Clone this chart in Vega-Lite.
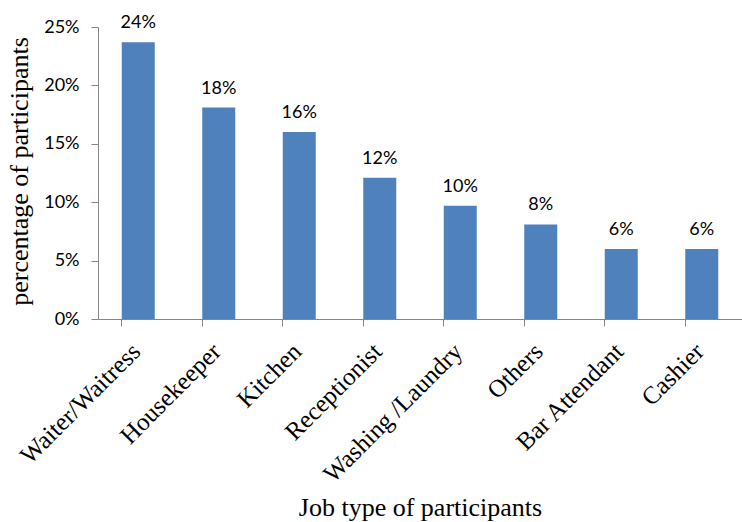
{
  "$schema": "https://vega.github.io/schema/vega-lite/v6.json",
  "autosize": {"type": "none"},
  "padding": {"left": 98, "top": 27, "right": 0, "bottom": 203},
  "width": 644,
  "height": 292,
  "background": "white",
  "config": {"view": {"stroke": null}},
  "data": {"values": [
    {"job": "Waiter/Waitress", "pct": 0.237},
    {"job": "Housekeeper", "pct": 0.181},
    {"job": "Kitchen", "pct": 0.160},
    {"job": "Receptionist", "pct": 0.121},
    {"job": "Washing /Laundry", "pct": 0.097},
    {"job": "Others", "pct": 0.081},
    {"job": "Bar Attendant", "pct": 0.060},
    {"job": "Cashier", "pct": 0.060}
  ]},
  "encoding": {
    "y": {
      "field": "pct", "type": "quantitative",
      "scale": {"domain": [0, 0.25], "nice": false},
      "axis": {
        "title": "percentage of participants",
        "titleFont": "Liberation Serif", "titleFontSize": 26, "titleFontWeight": "normal", "titleColor": "#000000",
        "titleBaseline": "alphabetic", "titleX": -71, "titleY": 144, "titleAngle": -90,
        "values": [0, 0.05, 0.1, 0.15, 0.2, 0.25], "format": ".0%",
        "labelFont": "Lato", "labelFontSize": 18, "labelColor": "#000000", "labelPadding": 12,
        "tickSize": 7, "tickColor": "#868686", "domainColor": "#868686", "grid": false
      }
    }
  },
  "layer": [
    {
      "mark": {"type": "bar", "color": "#4f81bd"},
      "encoding": {
        "x": {
          "field": "job", "type": "nominal", "sort": null,
          "scale": {"paddingInner": 0.59, "paddingOuter": 0.295},
          "axis": {
            "orient": "bottom",
            "title": "Job type of participants",
            "titleFont": "Liberation Serif", "titleFontSize": 26, "titleFontWeight": "normal", "titleColor": "#000000",
            "titleBaseline": "alphabetic", "titleY": 196, "titleX": 322,
            "labelFont": "Liberation Serif", "labelFontSize": 25, "labelColor": "#000000",
            "labelAngle": -45, "labelAlign": "right", "labelBaseline": "middle", "labelPadding": 28, "labelOffset": -2,
            "ticks": false, "domainColor": "#868686",
            "labelOverlap": false, "labelLimit": 400
          }
        }
      }
    },
    {
      "mark": {"type": "text", "font": "Lato", "fontSize": 18, "baseline": "alphabetic", "dy": -14, "color": "#000000"},
      "encoding": {
        "x": {"field": "job", "type": "nominal", "sort": null,
          "axis": {"orient": "bottom", "labels": false, "title": null, "bandPosition": 0, "ticks": true, "tickSize": 7, "tickColor": "#868686", "domainColor": "#868686"}},
        "text": {"field": "pct", "type": "quantitative", "format": ".0%"}
      }
    }
  ],
  "resolve": {"axis": {"x": "independent"}}
}
